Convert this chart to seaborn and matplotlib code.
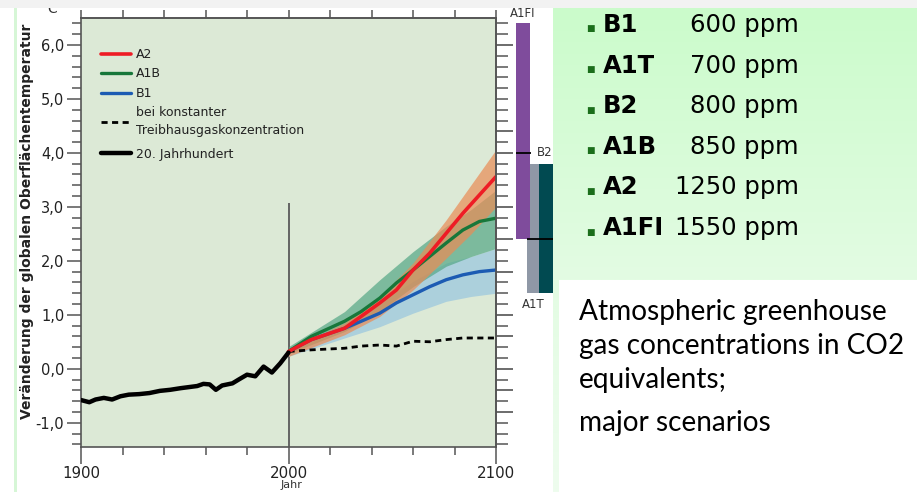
import numpy as np
import pandas as pd
import matplotlib
matplotlib.use("Agg")
import matplotlib.pyplot as plt
import seaborn as sns
from matplotlib.patches import Rectangle
from matplotlib.colors import LinearSegmentedColormap
from matplotlib.ticker import MultipleLocator

# ---------------- data ----------------
hist_years = [1900, 1904, 1907, 1911, 1915, 1919, 1923, 1928, 1933, 1938, 1943, 1948,
              1952, 1956, 1959, 1962, 1965, 1968, 1973, 1976, 1980, 1984, 1988, 1992,
              1996, 2000]
hist_temp = [-0.58, -0.62, -0.57, -0.54, -0.57, -0.51, -0.48, -0.47, -0.45, -0.41, -0.39, -0.36,
             -0.34, -0.32, -0.28, -0.29, -0.39, -0.31, -0.27, -0.20, -0.11, -0.14, 0.04, -0.07,
             0.10, 0.30]

proj_years = [2000, 2011, 2027, 2035, 2044, 2052, 2060, 2068, 2076, 2084, 2092, 2100]
a2_temp = [0.32, 0.54, 0.75, 0.97, 1.22, 1.46, 1.83, 2.14, 2.51, 2.88, 3.22, 3.56]
a1b_temp = [0.32, 0.60, 0.88, 1.06, 1.31, 1.59, 1.83, 2.08, 2.33, 2.57, 2.73, 2.79]
b1_temp = [0.32, 0.54, 0.75, 0.88, 1.03, 1.22, 1.37, 1.52, 1.65, 1.74, 1.80, 1.83]
const_temp = [0.32, 0.35, 0.38, 0.42, 0.44, 0.42, 0.51, 0.50, 0.54, 0.57, 0.57, 0.57]

band_years = [2000, 2027, 2044, 2060, 2076, 2088, 2100]
a2_lo = [0.23, 0.63, 0.97, 1.46, 2.05, 2.50, 3.00]
a2_hi = [0.36, 0.85, 1.34, 1.96, 2.76, 3.41, 4.06]
a1b_lo = [0.28, 0.69, 1.06, 1.52, 1.90, 2.08, 2.23]
a1b_hi = [0.41, 1.06, 1.65, 2.17, 2.64, 2.95, 3.31]
b1_lo = [0.23, 0.57, 0.78, 1.03, 1.25, 1.34, 1.40]
b1_hi = [0.35, 0.85, 1.22, 1.62, 1.96, 2.08, 2.23]

bar_names = ["A1T", "A1FI", "B2"]
bar_low = [1.4, 2.4, 1.4]
bar_high = [3.8, 6.4, 3.8]
bar_best = [2.4, 4.0, 2.4]

scen_names = ["B1", "A1T", "B2", "A1B", "A2", "A1FI"]
scen_ppm = [600, 700, 800, 850, 1250, 1550]

note_lines = ["Atmospheric greenhouse", "gas concentrations in CO2", "equivalents;", "major scenarios"]

y_ticks = [-1, 0, 1, 2, 3, 4, 5, 6]
x_labels = [1900, 2000, 2100]
right_major = [6.0, 4.4, 4.0, 3.0, 2.4, 1.8, 1.0, 0.6, 0.0, -0.4, -0.8]

# ---------------- style ----------------
sns.set_theme(style="ticks")
plt.rcParams['font.family'] = ['DejaVu Sans']

W, H = 917, 492
fig = plt.figure(figsize=(W / 100, H / 100), dpi=100)
fig.patch.set_facecolor('white')


def fx(px):
    return px / W


def fy(py):
    return 1 - py / H


# slide background pieces
bg = fig.add_axes([0, 0, 1, 1], zorder=-5)
bg.axis('off')
cmap = LinearSegmentedColormap.from_list('g', [(0, '#cbfbcb'), (0.56, '#e3fce3'), (1, '#eefcee')])
bg.imshow(np.linspace(0, 1, 256)[:, None], cmap=cmap, aspect='auto',
          extent=[553, W, H, 8], origin='upper')
bg.add_patch(Rectangle((559, 280), W - 559, H - 280, color='white', lw=0))
bg.add_patch(Rectangle((14, 8), 2.5, H - 8, color='#d6f6d6', lw=0))
bg.set_xlim(0, W)
bg.set_ylim(H, 0)

fig.add_artist(Rectangle((0, fy(8)), 1, 8 / H, transform=fig.transFigure,
                         color='#f2f2f2', lw=0, zorder=10))

# ---------------- main axes ----------------
ax = fig.add_axes([fx(81), fy(447), fx(496) - fx(81), (447 - 18) / H])
ax.set_facecolor('#dce9d6')
ax.set_xlim(1900, 2100)
ax.set_ylim(-1.45, 6.5)

ax.vlines(2000, -1.45, 3.07, color='#5a5a5a', lw=1.3, zorder=1.5)

ax.fill_between(band_years, b1_lo, b1_hi, color='#acd0dc', alpha=1.0, lw=0, zorder=2)
ax.fill_between(band_years, a1b_lo, a1b_hi, color='#54a785', alpha=0.7, lw=0, zorder=2.1)
ax.fill_between(band_years, a2_lo, a2_hi, color='#ea8b55', alpha=0.7, lw=0, zorder=2.2)

sns.lineplot(x=proj_years, y=const_temp, color='black', lw=2.0, ax=ax,
             label='bei konstanter\nTreibhausgaskonzentration', zorder=3)
ax.lines[-1].set_dashes([2.2, 1.6])
sns.lineplot(x=proj_years, y=b1_temp, color='#1c5bb3', lw=2.4, ax=ax, label='B1', zorder=3)
sns.lineplot(x=proj_years, y=a1b_temp, color='#17773a', lw=2.4, ax=ax, label='A1B', zorder=3)
sns.lineplot(x=proj_years, y=a2_temp, color='#ee1c25', lw=2.6, ax=ax, label='A2', zorder=3)
sns.lineplot(x=hist_years, y=hist_temp, color='black', lw=3.2, ax=ax,
             label='20. Jahrhundert', zorder=3)

handles, labels = ax.get_legend_handles_labels()
hmap = dict(zip(labels, handles))
order1 = ['A2', 'A1B', 'B1', 'bei konstanter\nTreibhausgaskonzentration']
order2 = ['20. Jahrhundert']
leg_kw = dict(loc='upper left', frameon=False, fontsize=9, handlelength=2.4,
              labelspacing=0.52, handletextpad=0.4, borderaxespad=0, borderpad=0.4)
leg1 = ax.legend([hmap[k] for k in order1], order1, bbox_to_anchor=(0.035, 0.942), **leg_kw)
for t in leg1.get_texts():
    t.set_color('#222222')
    t.set_linespacing(1.45)
ax.add_artist(leg1)
leg2 = ax.legend([hmap[k] for k in order2], order2, bbox_to_anchor=(0.035, 0.709), **leg_kw)
for t in leg2.get_texts():
    t.set_color('#222222')

ax.set_xlabel('')
ax.set_ylabel('Veränderung der globalen Oberflächentemperatur', fontweight='bold',
              fontsize=10, color='#222222')
ax.yaxis.set_label_coords(-0.113, 0.527)

for s in ax.spines.values():
    s.set_visible(True)
    s.set_color('#555555')
    s.set_linewidth(1.2)

ax.set_yticks(y_ticks, [f"{v:.1f}".replace('.', ',') for v in y_ticks])
ax.yaxis.set_minor_locator(MultipleLocator(0.2))
ax.tick_params(axis='y', which='major', length=10, width=1.1, color='#555555',
               labelsize=10.5, pad=2, labelcolor='#222222')
ax.tick_params(axis='y', which='minor', length=6.5, width=1.1, color='#555555')
ax.set_xticks(x_labels, [str(v) for v in x_labels])
ax.set_xticks(list(range(1920, 2100, 20)), minor=True)
ax.tick_params(axis='x', which='major', length=12, width=1.1, color='#555555',
               labelsize=10.8, pad=2, labelcolor='#222222')
ax.tick_params(axis='x', which='minor', length=6, width=1.1, color='#555555')

sec = ax.secondary_xaxis('top')
sec.set_xticks(list(range(1900, 2101, 20)))
sec.set_xticklabels([])
sec.tick_params(axis='x', length=6, width=1.1, color='#555555')
sec.spines['top'].set_color('#555555')
sec.spines['top'].set_linewidth(1.2)

axr = ax.twinx()
axr.set_ylim(ax.get_ylim())
axr.set_yticks(right_major)
axr.set_yticklabels([])
axr.yaxis.set_minor_locator(MultipleLocator(0.2))
axr.tick_params(axis='y', which='major', length=12, width=1.1, color='#444444')
axr.tick_params(axis='y', which='minor', length=8.5, width=1.1, color='#555555')
for k, s in axr.spines.items():
    s.set_visible(k == 'right')
axr.spines['right'].set_color('#555555')
axr.spines['right'].set_linewidth(1.2)

# ---------------- range bars ----------------
axb = fig.add_axes([fx(497), fy(447), fx(556) - fx(497), (447 - 18) / H])
axb.set_xlim(0, 59)
axb.set_ylim(ax.get_ylim())
axb.axis('off')
bar_x = [36, 26, 49]
bar_w = [12, 14, 14]
bar_colors = ['#8f98a6', '#7f4c9c', '#014a51']
heights = [h - l for h, l in zip(bar_high, bar_low)]
axb.bar(bar_x, heights, bottom=bar_low, width=bar_w, color=bar_colors, lw=0)
axb.hlines(bar_best[1], bar_x[1] - bar_w[1] / 2, bar_x[1] + bar_w[1] / 2 + 1,
           color='black', lw=1.3)
axb.hlines(bar_best[0], bar_x[0] - bar_w[0] / 2, bar_x[2] + bar_w[2] / 2,
           color='black', lw=1.3)
axb.text(bar_x[1], bar_high[1] + 0.07, bar_names[1], ha='center', va='bottom',
         fontsize=8.5, color='#333333', clip_on=False)
axb.text(bar_x[2] - 1, bar_high[2] + 0.08, bar_names[2], ha='center', va='bottom',
         fontsize=8.5, color='#333333', clip_on=False)
axb.text(bar_x[0], bar_low[0] - 0.08, bar_names[0], ha='center', va='top',
         fontsize=8.5, color='#333333', clip_on=False)

# ---------------- texts ----------------
fig.text(fx(50), fy(9), '°C', fontsize=10, ha='center', va='center', color='#333333', zorder=3)
fig.text(fx(291), fy(485), 'Jahr', fontsize=8, ha='center', va='center', color='#333333')

for i, (name, ppm) in enumerate(zip(scen_names, scen_ppm)):
    yy = 25 + i * 40.6
    fig.text(fx(590), fy(yy + 4), '■', fontsize=6.5, color='#1b6e1b', ha='center', va='center')
    fig.text(fx(603), fy(yy), name, fontsize=17.5, fontweight='bold', ha='left',
             va='center', color='black')
    fig.text(fx(799), fy(yy), f"{ppm} ppm", fontsize=17.5, ha='right', va='center',
             color='black')

for yb, line in zip([320, 354, 388, 431], note_lines):
    fig.text(fx(579), fy(yb), line, fontsize=20.2, family='Lato', ha='left', va='baseline',
             color='black')

fig.savefig('out.png', dpi=100)
